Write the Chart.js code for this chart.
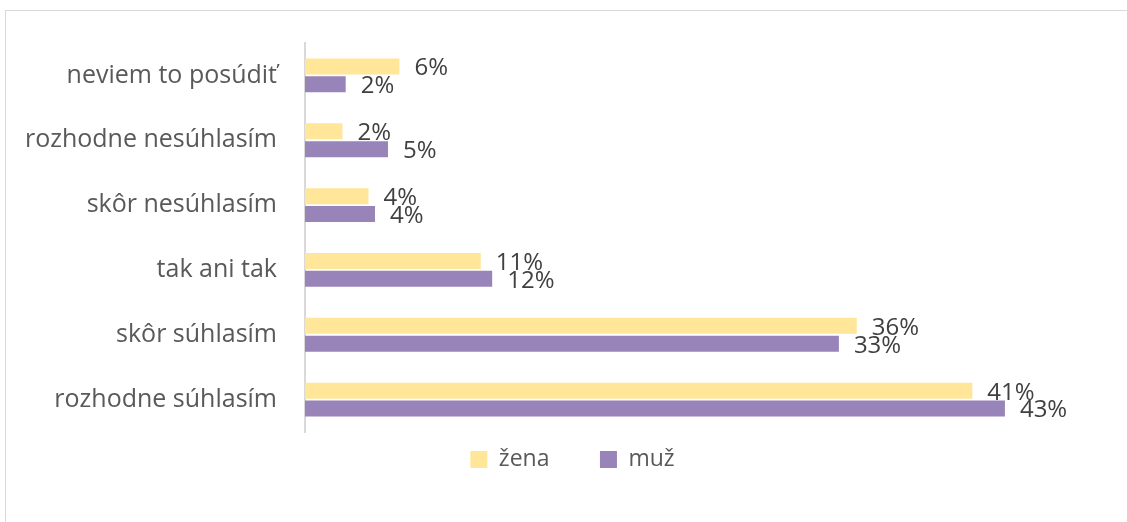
<!DOCTYPE html>
<html>
<head>
<meta charset="utf-8">
<script src="https://cdn.jsdelivr.net/npm/chart.js@4/dist/chart.umd.min.js"></script>
<style>
    html, body { margin: 0; padding: 0; background: #fff; overflow: hidden; }
    #frame { position: absolute; left: 5px; top: 10px; width: 1140px; height: 530px; border: 1px solid #d9d9d9; }
    #myChart { position: absolute; left: 0; top: 0; }
</style>
</head>
<body>
<div id="frame"></div>
<canvas id="myChart" width="1127" height="522"></canvas>
<script>
const categories = ['neviem to posúdiť', 'rozhodne nesúhlasím', 'skôr nesúhlasím', 'tak ani tak', 'skôr súhlasím', 'rozhodne súhlasím'];
const zenaValues = [5.8, 2.3, 3.9, 10.8, 33.9, 41.0];
const muzValues = [2.5, 5.1, 4.3, 11.5, 32.8, 43.0];
const zenaLabels = ['6%', '2%', '4%', '11%', '36%', '41%'];
const muzLabels = ['2%', '5%', '4%', '12%', '33%', '43%'];

const FONT = '"Open Sans", "Noto Sans", sans-serif';

// draws the percentage text next to each bar
const barLabels = {
    id: 'barLabels',
    afterDatasetsDraw(chart) {
        const ctx = chart.ctx;
        ctx.save();
        ctx.font = '24px ' + FONT;
        ctx.fillStyle = '#404040';
        ctx.textAlign = 'left';
        ctx.textBaseline = 'middle';
        chart.data.datasets.forEach((ds, i) => {
            const meta = chart.getDatasetMeta(i);
            meta.data.forEach((bar, j) => {
                ctx.fillText(ds.labelTexts[j], bar.x + 15, bar.y + 2);
            });
        });
        ctx.restore();
    }
};

function renderChart() {
    const ctx = document.getElementById('myChart');
    return new Chart(ctx, {
        type: 'bar',
        data: {
            labels: categories,
            datasets: [{
                label: 'žena',
                data: zenaValues,
                labelTexts: zenaLabels,
                backgroundColor: '#ffe699',
                borderWidth: 0,
            }, {
                label: 'muž',
                data: muzValues,
                labelTexts: muzLabels,
                backgroundColor: '#9884b8',
                borderWidth: 0,
            }]
        },
        plugins: [barLabels],
        options: {
            indexAxis: 'y',
            responsive: false,
            animation: false,
            layout: { padding: { left: 18, right: 0, top: 33, bottom: 41 } },
            datasets: {
                bar: { categoryPercentage: 0.55, barPercentage: 0.9 }
            },
            scales: {
                x: {
                    display: false,
                    min: 0,
                    max: 50.5
                },
                y: {
                    afterFit(scale) { scale.width = 287; },
                    grid: { display: false, drawTicks: false },
                    border: { display: true, color: '#d9d9d9', width: 2 },
                    ticks: {
                        autoSkip: false,
                        padding: 28,
                        color: '#595959',
                        font: { family: FONT, size: 25 }
                    }
                }
            },
            plugins: {
                tooltip: { enabled: false },
                legend: {
                    position: 'bottom',
                    labels: {
                        boxWidth: 17,
                        boxHeight: 17,
                        padding: 16,
                        color: '#595959',
                        font: { family: FONT, size: 23 },
                        generateLabels(chart) {
                            const items = Chart.defaults.plugins.legend.labels.generateLabels(chart);
                            // wider gap after the first item, as in the original legend
                            items[0].text = items[0].text + '\u2003\u2002';
                            return items;
                        }
                    }
                }
            }
        }
    });
}
renderChart();
</script>
</body>
</html>
